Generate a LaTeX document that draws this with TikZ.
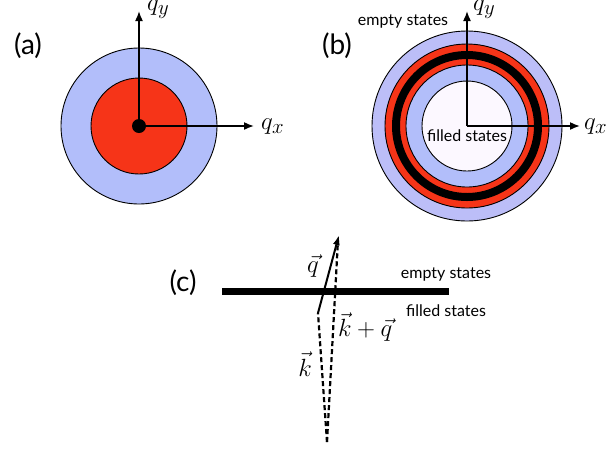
\documentclass[tikz,border=0pt]{standalone}
\usepackage{fontspec}
\setmainfont{Lato}
\usetikzlibrary{arrows.meta}
\definecolor{blueA}{RGB}{178,190,250}
\definecolor{blueB}{RGB}{188,190,248}
\definecolor{redA}{RGB}{246,52,24}
\definecolor{whiteB}{RGB}{252,248,255}
\tikzset{
  disk/.style={draw=black,line width=0.9pt},
  axis/.style={line width=1.6pt,-{Latex[length=10pt,width=8pt]}},
  panel/.style={font=\fontsize{28}{32}\selectfont},
  small/.style={font=\fontsize{16}{18}\selectfont},
  mathlab/.style={font=\fontsize{28}{32}\selectfont,inner sep=0pt},
  kdash/.style={line width=2.2pt,dash pattern=on 5pt off 3pt},
}
\begin{document}
\begin{tikzpicture}[x=1pt,y=-1pt]
\useasboundingbox (0,0) rectangle (612,448);
% ---- panel (a)
\coordinate (ca) at (139,126);
\fill[blueA] (ca) circle (78pt);
\draw[disk] (ca) circle (78pt);
\fill[redA] (ca) circle (48pt);
\draw[disk] (ca) circle (48pt);
\coordinate (qxa) at (254,126);
\coordinate (qya) at (139,11);
\draw[axis] (ca) -- (qxa);
\draw[axis] (ca) -- (qya);
\fill[black] (ca) circle (7pt);
\node[mathlab,anchor=west] (lqxa) at (261,127) {$q_x$};
\node[mathlab,anchor=west] (lqya) at (147,9) {$q_y$};
\node[panel] (la) at (28,46) {(a)};
% ---- panel (b)
\coordinate (cb) at (467,126);
\fill[blueB] (cb) circle (95pt);
\draw[disk] (cb) circle (95pt);
\fill[redA] (cb) circle (82pt);
\draw[disk] (cb) circle (82pt);
\draw[line width=8pt] (cb) circle (71pt);
\fill[blueA] (cb) circle (61pt);
\draw[disk] (cb) circle (61pt);
\fill[whiteB] (cb) circle (45pt);
\draw[disk] (cb) circle (45pt);
\coordinate (qxb) at (580,126);
\coordinate (qyb) at (467,11);
\draw[axis] (cb) -- (qxb);
\draw[axis] (cb) -- (qyb);
\node[mathlab,anchor=west] (lqxb) at (584,127) {$q_x$};
\node[mathlab,anchor=west] (lqyb) at (473,9) {$q_y$};
\node[panel] (lb) at (337,46) {(b)};
\node[small] (esb) at (403,21) {empty states};
\node[small] (fsb) at (467,136) {filled states};
% ---- panel (c)
\coordinate (fl) at (222,291);
\coordinate (fr) at (449,291);
\draw[line width=7pt] (fl) -- (fr);
\coordinate (kb) at (327,442);
\coordinate (kt) at (318,313);
\coordinate (qt) at (339,235);
\coordinate (kqt) at (338,240);
\draw[kdash] (kb) -- (kt);
\draw[kdash] (kb) -- (kqt);
\draw[line width=2pt,-{Latex[length=10pt,width=7pt]}] (kt) -- (qt);
\node[panel] (lc) at (183,283) {(c)};
\node[small] (esc) at (446,274) {empty states};
\node[small] (fsc) at (446,311) {filled states};
\node[mathlab] (lq) at (313,266) {$\vec{q}$};
\node[mathlab,anchor=west] (lkq) at (338,327) {$\vec{k}+\vec{q}$};
\node[mathlab] (lk) at (305,364) {$\vec{k}$};
\end{tikzpicture}
\end{document}
